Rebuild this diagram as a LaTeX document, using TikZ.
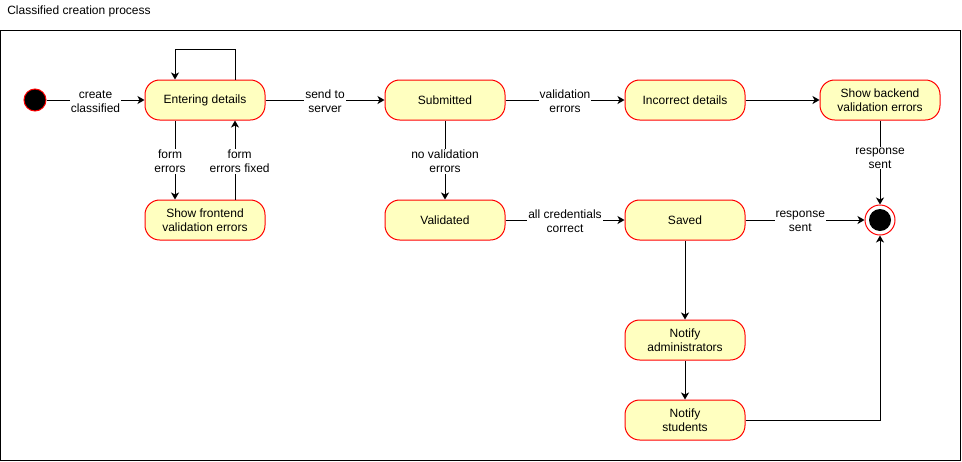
\documentclass[tikz,border=0pt]{standalone}
\usepackage{fontspec}
\setmainfont{Liberation Sans}
\usetikzlibrary{arrows.meta}
\definecolor{statefill}{HTML}{FFFFC0}
\definecolor{stateline}{HTML}{FF0000}

\begin{document}
\begin{tikzpicture}[x=0.75pt,y=-0.75pt,
  state/.style={draw=stateline, fill=statefill, line width=0.75pt,
    rounded corners=11pt, minimum width=90pt, minimum height=30pt,
    inner sep=0pt, align=center, font=\fontsize{9pt}{10.5pt}\selectfont},
  lbl/.style={fill=white, inner sep=0.75pt, align=center, yshift=-1pt,
    font=\fontsize{9pt}{10.5pt}\selectfont},
  arr/.style={draw=black, line width=0.75pt,
    -{Stealth[length=5.25pt,width=6pt,inset=1.5pt]}},
  startdot/.style={circle, fill=black, draw=stateline, line width=0.75pt,
    minimum size=16.5pt, inner sep=0pt},
]
\useasboundingbox (0,0) rectangle (962,461);

% title and frame
\node[anchor=west, inner sep=0pt, font=\fontsize{9pt}{10.8pt}\selectfont]
  (title) at (7,11) {Classified creation process};
\draw[line width=0.75pt] (0.5,30.5) rectangle (960.5,460.5);

% states
\node[startdot] (init) at (35,100) {};
\node[state] (ent) at (205,100) {Entering details};
\node[state] (fe)  at (205,220) {Show frontend\\validation errors};
\node[state] (sub) at (445,100) {Submitted};
\node[state] (val) at (445,220) {Validated};
\node[state] (inc) at (685,100) {Incorrect details};
\node[state] (back) at (880,100) {Show backend\\validation errors};
\node[state] (sav) at (685,220) {Saved};
\node[state] (adm) at (685,340) {Notify\\administrators};
\node[state] (stu) at (685,420) {Notify\\students};

% final state
\node[circle, draw=stateline, fill=white, line width=0.75pt,
  minimum size=22.5pt, inner sep=0pt] (fin) at (880,220) {};
\node[circle, fill=black, minimum size=16.5pt, inner sep=0pt] (fincore) at (fin) {};

% transitions
\draw[arr] (init) -- node[lbl]{create\\classified} (ent);
\draw[arr] ([xshift=22.5pt]ent.north) -- ++(0,-30) -| ([xshift=-22.5pt]ent.north);
\draw[arr] (ent) -- node[lbl]{send to\\server} (sub);
\draw[arr] ([xshift=-22.5pt]ent.south) -- node[lbl, xshift=-3.75pt]{form\\errors} ([xshift=-22.5pt]fe.north);
\draw[arr] ([xshift=22.5pt]fe.north) -- node[lbl, xshift=3.5pt]{form\\errors fixed} ([xshift=22.5pt]ent.south);
\draw[arr] (sub) -- node[lbl]{validation\\errors} (inc);
\draw[arr] (sub) -- node[lbl]{no validation\\errors} (val);
\draw[arr] (inc) -- (back);
\draw[arr] (back) -- node[lbl, pos=0.43]{response\\sent} (fin);
\draw[arr] (val) -- node[lbl]{all credentials\\correct} (sav);
\draw[arr] (sav) -- node[lbl, pos=0.46]{response\\sent} (fin);
\draw[arr] (sav) -- (adm);
\draw[arr] (adm) -- (stu);
\draw[arr] (stu) -| (fin);
\end{tikzpicture}
\end{document}
